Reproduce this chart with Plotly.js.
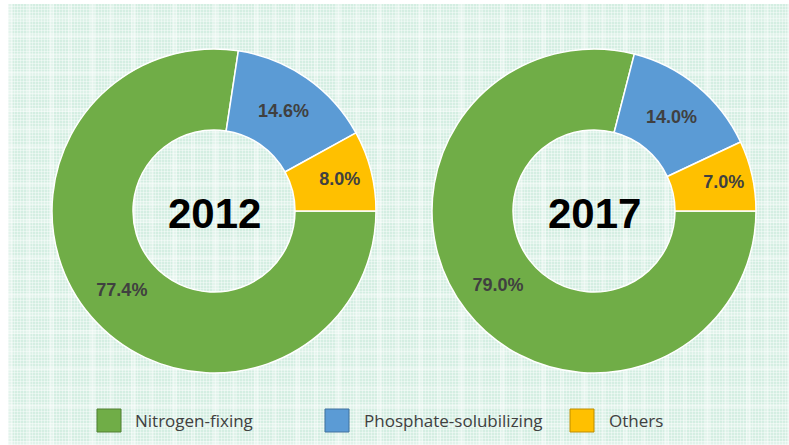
<!DOCTYPE html>
<html>
<head>
<meta charset="utf-8">
<script src="https://cdn.plot.ly/plotly-3.0.1.min.js"></script>
<style>
  html, body { margin: 0; padding: 0; background: #ffffff; }
  #wrap { position: relative; width: 789px; height: 445px; overflow: hidden; }
  #bg {
    position: absolute; left: 8px; top: 4px; right: 0; bottom: 0;
    background-color: #d4eee2;
    background-image:
      repeating-linear-gradient(0deg, rgba(255,255,255,0.4) 0 1px, transparent 1px 3px),
      repeating-linear-gradient(90deg, rgba(255,255,255,0.4) 0 1px, transparent 1px 3px),
      repeating-linear-gradient(90deg, rgba(255,255,255,0.35) 0 5px, transparent 5px 19px, rgba(255,255,255,0.25) 19px 23px, transparent 23px 41px),
      repeating-linear-gradient(0deg, rgba(255,255,255,0.3) 0 4px, transparent 4px 17px, rgba(255,255,255,0.22) 17px 22px, transparent 22px 37px);
  }
  #chart { position: absolute; left: 0; top: 0; width: 789px; height: 445px; }
</style>
</head>
<body>
<div id="wrap">
  <div id="bg"></div>
  <div id="chart"></div>
</div>
<script>
// ---- data ----
const categories = ["Nitrogen-fixing", "Phosphate-solubilizing", "Others"];
const values2012 = [77.4, 14.6, 8.0];
const values2017 = [79.0, 14.0, 7.0];
const years = ["2012", "2017"];
const colors = ["#70ad47", "#5b9bd5", "#ffc000"];
const borderColors = ["#507e32", "#41719c", "#bc8c00"];

// ---- layout constants ----
const W = 789, H = 445;
const R = 162;
const centers = [[214, 211], [594, 211]];
const legendBoxX = [97, 325, 570];
const legendTextX = [133, 362, 607];
const legendY = 420;

function domainFor(c) {
  return {
    x: [(c[0] - R) / W, (c[0] + R) / W],
    y: [(H - c[1] - R) / H, (H - c[1] + R) / H]
  };
}

const seriesValues = [values2012, values2017];
const data = seriesValues.map((vals, i) => ({
  type: "pie",
  labels: categories,
  values: vals,
  hole: 0.5,
  sort: false,
  direction: "clockwise",
  rotation: 90,
  domain: domainFor(centers[i]),
  marker: { colors: colors, line: { color: "#ffffff", width: 1.5 } },
  texttemplate: "%{value:.1f}%",
  textposition: "inside",
  insidetextorientation: "horizontal",
  textfont: { family: "Liberation Sans, Arial, sans-serif", size: 18, color: "#404040", weight: "bold" },
  showlegend: false,
  hoverinfo: "label+value"
}));

const annotations = years.map((y, i) => ({
  text: y,
  xref: "paper", yref: "paper",
  x: centers[i][0] / W, y: (H - centers[i][1] - 2) / H,
  xanchor: "center", yanchor: "middle",
  showarrow: false,
  font: { family: "Liberation Sans, Arial, sans-serif", size: 42, color: "#000000", weight: "bold" }
}));

const shapes = [];
categories.forEach((cat, i) => {
  shapes.push({
    type: "rect", xref: "paper", yref: "paper",
    x0: legendBoxX[i] / W, x1: (legendBoxX[i] + 24) / W,
    y0: (H - legendY - 12) / H, y1: (H - legendY + 11) / H,
    fillcolor: colors[i], line: { color: borderColors[i], width: 1 }
  });
  annotations.push({
    text: cat,
    xref: "paper", yref: "paper",
    x: legendTextX[i] / W, y: (H - legendY) / H,
    xanchor: "left", yanchor: "middle",
    showarrow: false,
    font: { family: "Open Sans, sans-serif", size: 17, color: "#404040" }
  });
});

const layout = {
  width: W, height: H,
  margin: { l: 0, r: 0, t: 0, b: 0 },
  paper_bgcolor: "rgba(0,0,0,0)",
  plot_bgcolor: "rgba(0,0,0,0)",
  showlegend: false,
  annotations: annotations,
  shapes: shapes
};

Plotly.newPlot("chart", data, layout, { displayModeBar: false, staticPlot: true });
</script>
</body>
</html>
